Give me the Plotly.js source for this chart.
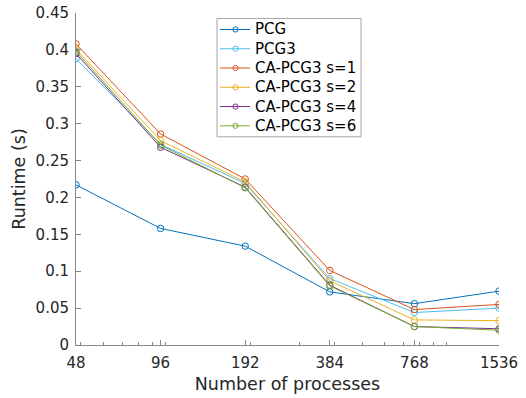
<!DOCTYPE html>
<html><head><meta charset="utf-8">
<script src="https://cdn.plot.ly/plotly-3.0.1.min.js"></script>
<style>html,body{margin:0;padding:0;background:#fff}</style>
</head><body>
<div id="chart" style="width:526px;height:398px"></div>
<script>
const processes = [48, 96, 192, 384, 768, 1536];
const tickLabels = ['48', '96', '192', '384', '768', '1536'];
const seriesNames = ['PCG', 'PCG3', 'CA-PCG3 s=1', 'CA-PCG3 s=2', 'CA-PCG3 s=4', 'CA-PCG3 s=6'];
const pcg      = [0.217, 0.158, 0.134, 0.072, 0.056, 0.073];
const pcg3     = [0.388, 0.272, 0.219, 0.090, 0.044, 0.050];
const caS1     = [0.408, 0.286, 0.225, 0.101, 0.048, 0.055];
const caS2     = [0.401, 0.277, 0.221, 0.087, 0.034, 0.033];
const caS4     = [0.395, 0.268, 0.214, 0.081, 0.025, 0.022];
const caS6     = [0.398, 0.271, 0.213, 0.080, 0.025, 0.020];
const colors = ['#0072BD', '#4DBEEE', '#D95319', '#EDB120', '#7E2F8E', '#77AC30'];
const allSeries = [pcg, pcg3, caS1, caS2, caS4, caS6];

const traces = allSeries.map((ys, i) => ({
  x: processes, y: ys, name: seriesNames[i], type: 'scatter', mode: 'lines+markers',
  line: {color: colors[i], width: 1},
  marker: {symbol: 'circle-open', size: 6.5, color: colors[i], line: {width: 1, color: colors[i]}}
}));

const minorVals = [];
[10, 100, 1000].forEach(d => { for (let k = 1; k < 10; k++) { const v = d * k; if (v > 48 && v < 1536) minorVals.push(v); } });

// plot area geometry (pixels) used to place the custom legend box
const W = 526, H = 398, ML = 76, MR = 27, MT = 13, MB = 52.5;
const PW = W - ML - MR, PH = H - MT - MB;
const px = x => (x - ML) / PW;
const py = y => (H - MB - y) / PH;

const shapes = [];
const annotations = [];
shapes.push({type: 'rect', xref: 'paper', yref: 'paper', x0: px(217), x1: px(361), y0: py(137), y1: py(18.5),
  line: {color: '#a6a6a6', width: 1}, fillcolor: '#ffffff', layer: 'above'});
seriesNames.forEach((name, i) => {
  const cy = 29.5 + i * 19.3;
  shapes.push({type: 'line', xref: 'paper', yref: 'paper', x0: px(220), x1: px(250), y0: py(cy), y1: py(cy),
    line: {color: colors[i], width: 1}, layer: 'above'});
  const r = 2.6;
  shapes.push({type: 'circle', xref: 'paper', yref: 'paper', x0: px(235.5 - r), x1: px(235.5 + r), y0: py(cy + r), y1: py(cy - r),
    line: {color: colors[i], width: 1}, fillcolor: 'rgba(0,0,0,0)', layer: 'above'});
  annotations.push({xref: 'paper', yref: 'paper', x: px(253), y: py(cy), xanchor: 'left', yanchor: 'middle',
    text: name, showarrow: false, font: {size: 15, color: '#000'}, xshift: 0});
});

const axColor = '#262626';
const layout = {
  width: W, height: H,
  margin: {l: ML, r: MR, t: MT, b: MB},
  paper_bgcolor: '#fff', plot_bgcolor: '#fff',
  font: {family: 'DejaVu Sans, sans-serif', size: 15, color: axColor},
  showlegend: false,
  shapes: shapes, annotations: annotations,
  xaxis: {
    type: 'log', range: [Math.log10(48), Math.log10(1536)],
    tickmode: 'array', tickvals: processes, ticktext: tickLabels,
    ticks: 'inside', ticklen: 5, tickcolor: '#888', showline: true, linecolor: '#888', linewidth: 1,
    showgrid: false, zeroline: false, mirror: false, ticklabelstandoff: 4,
    minor: {tickmode: 'array', tickvals: minorVals, ticks: 'inside', ticklen: 3, tickcolor: '#888'},
    title: {text: 'Number of processes', font: {size: 17.5, color: axColor}, standoff: 6},
    tickfont: {size: 15, color: axColor}
  },
  yaxis: {
    range: [0, 0.45], tickmode: 'array',
    tickvals: [0, 0.05, 0.1, 0.15, 0.2, 0.25, 0.3, 0.35, 0.4, 0.45],
    ticktext: ['0', '0.05', '0.1', '0.15', '0.2', '0.25', '0.3', '0.35', '0.4', '0.45'],
    ticks: 'inside', ticklen: 5, tickcolor: '#888', showline: true, linecolor: '#888', linewidth: 1,
    showgrid: false, zeroline: false, mirror: false, ticklabelstandoff: 3,
    title: {text: 'Runtime (s)', font: {size: 17.5, color: axColor}, standoff: 5},
    tickfont: {size: 15, color: axColor}
  }
};
Plotly.newPlot('chart', traces, layout, {displayModeBar: false, staticPlot: true});
</script>
</body></html>
